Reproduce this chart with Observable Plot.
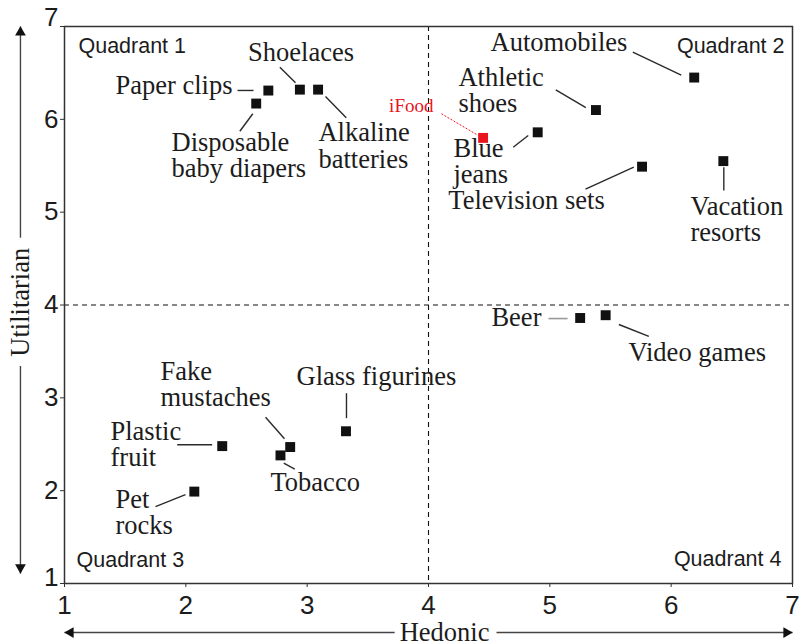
<!DOCTYPE html>
<html><head><meta charset="utf-8">
<script src="https://cdn.jsdelivr.net/npm/d3@7"></script>
<script src="https://cdn.jsdelivr.net/npm/@observablehq/plot@0.6"></script>
<style>body{margin:0;background:#fff} #chart{width:801px;height:642px}</style>
</head><body><div id="chart"></div>
<script>
// ---- data ----
const products = ["Paper clips","Disposable baby diapers","Shoelaces","Alkaline batteries","iFood","Blue jeans","Athletic shoes","Automobiles","Television sets","Vacation resorts","Beer","Video games","Plastic fruit","Fake mustaches","Tobacco","Glass figurines","Pet rocks"];
const hedonic =     [2.68, 2.58, 2.94, 3.09, 4.45, 4.90, 5.38, 6.19, 5.76, 6.43, 5.25, 5.46, 2.30, 2.86, 2.78, 3.32, 2.07];
const utilitarian = [6.31, 6.17, 6.32, 6.32, 5.80, 5.86, 6.10, 6.45, 5.49, 5.55, 3.86, 3.89, 2.48, 2.47, 2.38, 2.64, 1.99];
const highlight = "iFood";
const xTicks = [1, 2, 3, 4, 5, 6, 7];
const yTicks = [1, 2, 3, 4, 5, 6, 7];
const quadrantNames = ["Quadrant 1", "Quadrant 2", "Quadrant 3", "Quadrant 4"];
const xTitle = "Hedonic";
const yTitle = "Utilitarian";
const midpoint = 4;

// ---- annotation layout (data units) ----
const labelText = ["Paper clips","Disposable\nbaby diapers","Shoelaces","Alkaline\nbatteries","iFood","Blue\njeans","Athletic\nshoes","Automobiles","Television sets","Vacation\nresorts","Beer","Video games","Plastic\nfruit","Fake\nmustaches","Tobacco","Glass figurines","Pet\nrocks"];
const labelX = [2.385, 1.882, 2.95, 3.093, 4.041, 4.206, 4.247, 4.511, 4.808, 6.159, 4.931, 5.648, 1.379, 1.791, 2.698, 2.912, 1.420];
const labelY = [6.36, 5.61, 6.72, 5.71, 6.14, 5.546, 6.31, 6.83, 5.126, 4.921, 3.865, 3.488, 2.497, 3.143, 2.088, 3.230, 1.765];
const labelAnchor = ["end","start","middle","start","end","start","start","start","middle","start","end","start","start","start","start","start","start"];
const leaderX1 = [2.426, 2.552, 2.775, 3.151, 4.107, 4.698, 5.049, 5.684, 5.294, 6.434, 4.989, 5.569, 1.929, 2.657, 2.807, 3.324, 1.750];
const leaderY1 = [6.311, 6.060, 6.562, 6.246, 6.060, 5.700, 6.318, 6.723, 5.247, 5.484, 3.854, 3.790, 2.494, 2.791, 2.296, 3.050, 1.829];
const leaderX2 = [2.558, 2.445, 2.904, 3.322, 4.406, 4.822, 5.297, 6.083, 5.692, 6.434, 5.146, 5.816, 2.217, 2.813, 2.898, 3.324, 1.997];
const leaderY2 = [6.311, 5.872, 6.394, 6.016, 5.829, 5.826, 6.127, 6.475, 5.484, 5.233, 3.854, 3.661, 2.494, 2.559, 2.231, 2.781, 1.958];

const quadX = [1.115, 6.934, 1.099, 6.909];
const quadY = [6.785, 6.785, 1.248, 1.258];
const quadAnchor = ["start", "end", "start", "end"];

const points = products.map((p, i) => ({product: p, h: hedonic[i], u: utilitarian[i]}));
const labels = products.map((p, i) => ({product: p, text: labelText[i], x: labelX[i], y: labelY[i], anchor: labelAnchor[i],
  x1: leaderX1[i], y1: leaderY1[i], x2: leaderX2[i], y2: leaderY2[i]}));
const quads = quadrantNames.map((q, i) => ({q, x: quadX[i], y: quadY[i], anchor: quadAnchor[i]}));

// axis arrows (data units, extending into the margins)
const hArrowY = 0.472, vArrowX = 0.637;
const hArrow = [{x1: xTicks[0], x2: xTicks[xTicks.length - 1], y: hArrowY}];
const vArrow = [{y1: 1.108, y2: yTicks[yTicks.length - 1], x: vArrowX}];

const serif = "'Liberation Serif', 'Times New Roman', serif";
const sans = "'Liberation Sans', Arial, sans-serif";
const ink = "#1c1c1c";
const red = "#e8141e";

const textFor = (anchor) => Plot.text(labels.filter(d => d.anchor === anchor && d.product !== highlight), {
  x: "x", y: "y", text: "text", textAnchor: anchor, lineAnchor: "middle", lineHeight: 1.0,
  fontSize: 26.5, fontFamily: serif, fill: ink
});

const chart = Plot.plot({
  width: 801, height: 642,
  marginLeft: 64, marginRight: 9, marginTop: 26, marginBottom: 59,
  x: {domain: [1, 7]},
  y: {domain: [1, 7]},
  style: {fontFamily: sans, color: ink, background: "#fff"},
  marks: [
    // axis arrows with titles (halo creates the gap)
    Plot.link(hArrow, {x1: "x1", x2: "x2", y1: "y", y2: "y", stroke: "#444", strokeWidth: 1.4}),
    Plot.link(vArrow, {x1: "x", x2: "x", y1: "y1", y2: "y2", stroke: "#444", strokeWidth: 1.4}),
    Plot.dot(hArrow, {x: "x2", y: "y", symbol: "triangle", r: 4, rotate: 90, dx: -6, fill: "#111", stroke: null}),
    Plot.dot(hArrow, {x: "x1", y: "y", symbol: "triangle", r: 4, rotate: -90, dx: 6, fill: "#111", stroke: null}),
    Plot.dot(vArrow, {x: "x", y: "y2", symbol: "triangle", r: 4, rotate: 0, dy: 6, fill: "#111", stroke: null}),
    Plot.dot(vArrow, {x: "x", y: "y1", symbol: "triangle", r: 4, rotate: 180, dy: -6, fill: "#111", stroke: null}),
    Plot.text([xTitle], {x: 4.132, y: hArrowY, text: d => d, fontSize: 26.5, fontFamily: serif, fill: ink,
      stroke: "white", strokeWidth: 16, lineAnchor: "middle"}),
    Plot.text([yTitle], {x: vArrowX, y: 4.03, text: d => d, rotate: -90, fontSize: 26.5, fontFamily: serif, fill: ink,
      stroke: "white", strokeWidth: 24, lineAnchor: "middle"}),

    // quadrant dividers
    Plot.ruleX([midpoint], {stroke: "#111", strokeWidth: 1.1, strokeDasharray: "5,4"}),
    Plot.ruleY([midpoint], {stroke: "#111", strokeWidth: 1.1, strokeDasharray: "5,4"}),

    // axes
    Plot.axisX({ticks: xTicks, tickFormat: d => String(d), tickSize: 4, tickPadding: 8, fontSize: 26, label: null, stroke: "#333"}),
    Plot.axisY({ticks: yTicks.filter(t => t !== 1 && t !== 7), tickFormat: d => String(d), tickSize: 4, tickPadding: 2, fontSize: 26, label: null, stroke: "#333"}),
    Plot.tickY([yTicks[0], yTicks[yTicks.length - 1]], {y: d => d, frameAnchor: "left", dx: -4, stroke: "#333"}),
    Plot.text([yTicks[yTicks.length - 1]], {y: d => d, text: d => String(d), frameAnchor: "left", textAnchor: "end", dx: -6, dy: -9, fontSize: 26, fill: ink}),
    Plot.text([yTicks[0]], {y: d => d, text: d => String(d), frameAnchor: "left", textAnchor: "end", dx: -6, dy: -6, fontSize: 26, fill: ink}),
    Plot.frame({stroke: "#333", strokeWidth: 1.5}),

    // quadrant labels
    Plot.text(quads.filter(d => d.anchor === "start"), {x: "x", y: "y", text: "q", textAnchor: "start", fontSize: 21.5, fontFamily: sans, fill: ink}),
    Plot.text(quads.filter(d => d.anchor === "end"), {x: "x", y: "y", text: "q", textAnchor: "end", fontSize: 21.5, fontFamily: sans, fill: ink}),

    // leader lines
    Plot.link(labels.filter(d => d.product !== highlight && d.product !== "Beer"), {x1: "x1", y1: "y1", x2: "x2", y2: "y2", stroke: "#2a2a2a", strokeWidth: 1.4}),
    Plot.link(labels.filter(d => d.product === "Beer"), {x1: "x1", y1: "y1", x2: "x2", y2: "y2", stroke: "#999", strokeWidth: 1.6}),
    Plot.link(labels.filter(d => d.product === highlight), {x1: "x1", y1: "y1", x2: "x2", y2: "y2", stroke: red, strokeWidth: 1, strokeDasharray: "2,1.5"}),

    // labels
    textFor("start"), textFor("middle"), textFor("end"),
    Plot.text(labels.filter(d => d.product === highlight), {x: "x", y: "y", text: "text", textAnchor: "end", lineAnchor: "middle",
      fontSize: 19, fontFamily: serif, fill: red}),

    // points
    Plot.dot(points, {x: "h", y: "u", symbol: "square", r: 5.6, fill: d => d.product === highlight ? red : "#111", stroke: null})
  ]
});
document.getElementById("chart").appendChild(chart);
</script>
</body></html>
